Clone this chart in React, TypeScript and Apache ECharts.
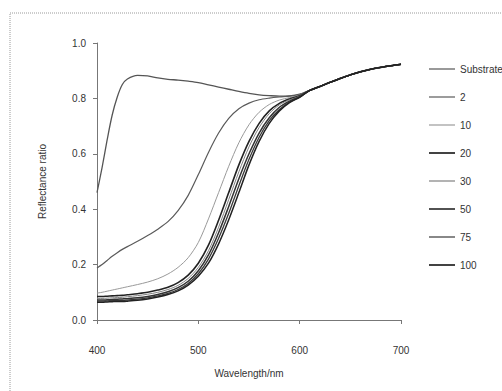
import React, { useEffect, useRef } from "react";
import * as echarts from "echarts";

const wavelengths = [400, 405, 410, 415, 420, 425, 430, 440, 450, 460, 470, 480, 490, 500, 510, 520, 530, 540, 550, 560, 570, 580, 590, 600, 610, 620, 630, 640, 650, 660, 670, 680, 690, 700];

const seriesNames = ["Substrate", "2", "10", "20", "30", "50", "75", "100"];

const tail = [0.829, 0.843, 0.858, 0.872, 0.885, 0.896, 0.905, 0.912, 0.918, 0.923];

const substrate = [0.46, 0.55, 0.65, 0.74, 0.805, 0.85, 0.87, 0.883, 0.881, 0.874, 0.869, 0.866, 0.862, 0.857, 0.849, 0.841, 0.833, 0.825, 0.818, 0.813, 0.81, 0.808, 0.809, 0.815, ...tail];
const layers2 = [0.188, 0.2, 0.215, 0.23, 0.243, 0.255, 0.265, 0.284, 0.305, 0.328, 0.355, 0.395, 0.45, 0.525, 0.605, 0.675, 0.728, 0.763, 0.783, 0.795, 0.801, 0.805, 0.808, 0.814, ...tail];
const layers10 = [0.097, 0.1, 0.104, 0.108, 0.112, 0.116, 0.12, 0.128, 0.137, 0.149, 0.166, 0.19, 0.225, 0.28, 0.365, 0.46, 0.555, 0.64, 0.705, 0.75, 0.778, 0.794, 0.803, 0.812, ...tail];
const layers20 = [0.085, 0.085, 0.086, 0.087, 0.088, 0.089, 0.091, 0.095, 0.1, 0.108, 0.118, 0.135, 0.162, 0.205, 0.27, 0.36, 0.46, 0.56, 0.645, 0.71, 0.755, 0.782, 0.798, 0.81, ...tail];
const layers30 = [0.078, 0.078, 0.079, 0.08, 0.081, 0.082, 0.084, 0.088, 0.093, 0.1, 0.11, 0.125, 0.15, 0.19, 0.25, 0.335, 0.435, 0.535, 0.625, 0.695, 0.745, 0.777, 0.795, 0.808, ...tail];
const layers50 = [0.072, 0.072, 0.073, 0.074, 0.075, 0.076, 0.077, 0.08, 0.085, 0.092, 0.102, 0.117, 0.14, 0.178, 0.235, 0.315, 0.41, 0.51, 0.6, 0.675, 0.73, 0.768, 0.79, 0.806, ...tail];
const layers75 = [0.068, 0.068, 0.069, 0.07, 0.071, 0.071, 0.072, 0.075, 0.08, 0.087, 0.096, 0.11, 0.132, 0.167, 0.22, 0.295, 0.385, 0.485, 0.58, 0.66, 0.72, 0.76, 0.787, 0.805, ...tail];
const layers100 = [0.064, 0.064, 0.065, 0.066, 0.067, 0.067, 0.068, 0.071, 0.076, 0.083, 0.092, 0.105, 0.126, 0.158, 0.205, 0.275, 0.362, 0.46, 0.56, 0.645, 0.71, 0.755, 0.785, 0.804, ...tail];

const seriesValues = [substrate, layers2, layers10, layers20, layers30, layers50, layers75, layers100];
const lineColors = ["#555555", "#5a5a5a", "#9a9a9a", "#222222", "#808080", "#333333", "#3a3a3a", "#222222"];
const lineWidths = [1.3, 1.2, 1, 1.6, 1, 1.5, 1.3, 1.5];

const xTicks = [400, 500, 600, 700];
const yTicks = [0, 0.2, 0.4, 0.6, 0.8, 1.0];

export default function App() {
  const ref = useRef<HTMLDivElement>(null);
  useEffect(() => {
    if (!ref.current) return;
    const chart = echarts.init(ref.current, null, { renderer: "svg" });
    const font = "'Liberation Sans', Arial, sans-serif";
    chart.setOption({
      animation: false,
      backgroundColor: "#ffffff",
      textStyle: { fontFamily: font },
      graphic: [
        {
          type: "rect",
          shape: { x: 10, y: 13, width: 520, height: 400 },
          style: { fill: "none", stroke: "#9a9a9a", lineWidth: 1, lineDash: [1, 1] },
          silent: true,
          z: -1,
        },
      ],
      grid: { left: 97, right: 101, top: 43, bottom: 71, containLabel: false },
      xAxis: {
        type: "value",
        min: xTicks[0],
        max: xTicks[xTicks.length - 1],
        interval: 100,
        name: "Wavelength/nm",
        nameLocation: "middle",
        nameGap: 48,
        nameTextStyle: { fontSize: 10, color: "#333", fontFamily: font },
        axisLine: { lineStyle: { color: "#777", width: 1 } },
        axisTick: { show: true, length: 4, lineStyle: { color: "#777" } },
        axisLabel: { fontSize: 10, color: "#333", margin: 25, fontFamily: font },
        splitLine: { show: false },
      },
      yAxis: {
        type: "value",
        min: yTicks[0],
        max: yTicks[yTicks.length - 1],
        interval: 0.2,
        name: "Reflectance ratio",
        nameLocation: "middle",
        nameGap: 50,
        nameTextStyle: { fontSize: 10, color: "#333", fontFamily: font },
        axisLine: { show: true, lineStyle: { color: "#777", width: 1 } },
        axisTick: { show: true, length: 4, lineStyle: { color: "#777" } },
        axisLabel: { fontSize: 10, color: "#333", margin: 11, fontFamily: font, formatter: (v: number) => v.toFixed(1) },
        splitLine: { show: false },
      },
      legend: {
        orient: "vertical",
        left: 424,
        top: 59,
        itemWidth: 26,
        itemHeight: 10,
        itemGap: 18,
        textStyle: { fontSize: 10, color: "#333", lineHeight: 10, fontFamily: font },
        data: seriesNames.map((name, i) => ({
          name,
          icon: lineWidths[i] >= 1.5 ? "path://M0,0H52V3.4H0Z" : "path://M0,0H52V2.4H0Z",
          itemStyle: { color: lineColors[i] },
        })),
      },
      series: seriesNames.map((name, i) => ({
        name,
        type: "line",
        symbol: "none",
        smooth: 0.3,
        lineStyle: { color: lineColors[i], width: lineWidths[i] },
        itemStyle: { color: lineColors[i] },
        data: wavelengths.map((w, j) => [w, seriesValues[i][j]]),
      })),
    });
    return () => chart.dispose();
  }, []);
  return <div ref={ref} style={{ position: "fixed", left: 0, top: 0, width: 502, height: 391 }} />;
}
